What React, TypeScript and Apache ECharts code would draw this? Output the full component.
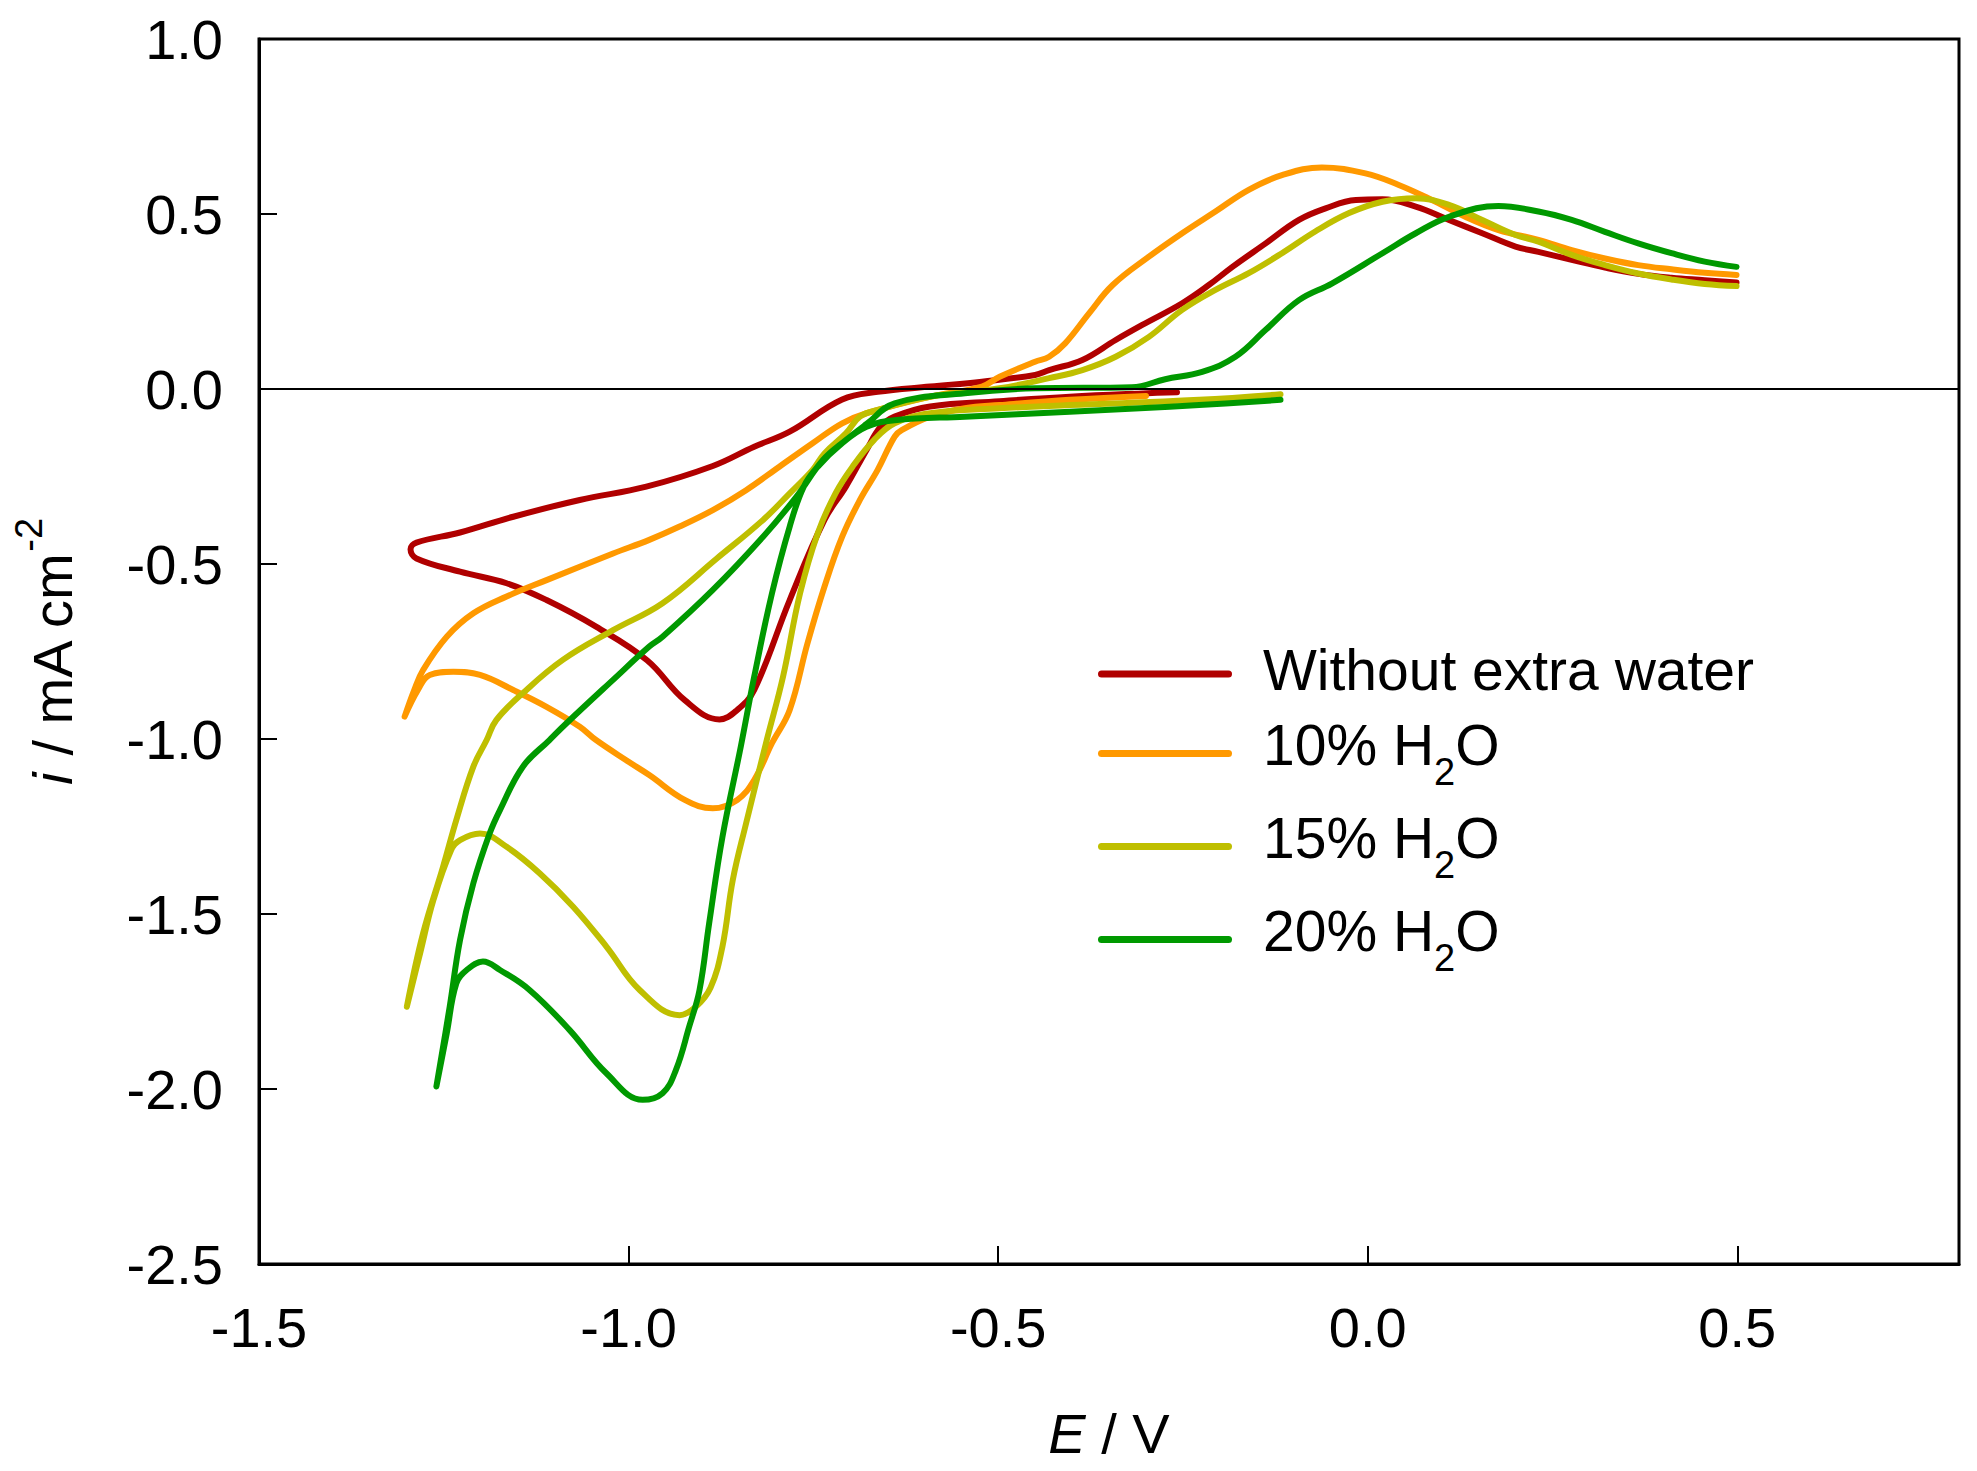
import { useEffect, useRef } from 'react';
import * as echarts from 'echarts';

// E / V vs i / mA cm-2, each scan drawn as one open path: start -> vertex -> +0.5 V
const noWater: [number, number][] = [
  [-0.258, -0.009], [-0.298, -0.012], [-0.403, -0.022], [-0.498, -0.035], [-0.592, -0.05],
  [-0.64, -0.079], [-0.659, -0.108], [-0.678, -0.174], [-0.706, -0.279], [-0.735, -0.374],
  [-0.782, -0.603], [-0.83, -0.86], [-0.853, -0.917], [-0.877, -0.944], [-0.924, -0.889],
  [-0.975, -0.775], [-1.044, -0.679], [-1.111, -0.603], [-1.165, -0.555], [-1.228, -0.522],
  [-1.287, -0.484], [-1.295, -0.458],
  [-1.287, -0.439], [-1.228, -0.41], [-1.156, -0.365], [-1.066, -0.317], [-0.976, -0.279],
  [-0.886, -0.22], [-0.83, -0.165], [-0.782, -0.122], [-0.711, -0.03], [-0.663, -0.008],
  [-0.592, 0.007], [-0.522, 0.021], [-0.45, 0.04], [-0.431, 0.054], [-0.386, 0.083],
  [-0.341, 0.14], [-0.305, 0.183], [-0.251, 0.245], [-0.215, 0.297], [-0.183, 0.349],
  [-0.138, 0.416], [-0.093, 0.483], [-0.057, 0.516], [-0.016, 0.54], [0.02, 0.542],
  [0.065, 0.521], [0.11, 0.483], [0.155, 0.445], [0.2, 0.407], [0.231, 0.392],
  [0.276, 0.369], [0.321, 0.347], [0.366, 0.329], [0.411, 0.318], [0.456, 0.311], [0.499, 0.304],
];

const water10: [number, number][] = [
  [-0.3, -0.02], [-0.403, -0.031], [-0.498, -0.046], [-0.545, -0.055], [-0.592, -0.079],
  [-0.63, -0.117], [-0.64, -0.136], [-0.663, -0.231], [-0.687, -0.317], [-0.711, -0.422],
  [-0.735, -0.565], [-0.758, -0.727], [-0.782, -0.917], [-0.806, -1.012], [-0.83, -1.117],
  [-0.853, -1.174], [-0.886, -1.198], [-0.924, -1.174], [-0.972, -1.103], [-1.0, -1.065],
  [-1.044, -1.003], [-1.066, -0.965], [-1.111, -0.908], [-1.156, -0.86], [-1.201, -0.817],
  [-1.237, -0.808], [-1.269, -0.817], [-1.285, -0.86], [-1.303, -0.936],
  [-1.29, -0.86], [-1.278, -0.803], [-1.246, -0.708], [-1.21, -0.641], [-1.165, -0.593],
  [-1.111, -0.546], [-1.021, -0.47], [-0.972, -0.431], [-0.931, -0.393], [-0.886, -0.346],
  [-0.841, -0.289], [-0.796, -0.222], [-0.751, -0.155], [-0.711, -0.098], [-0.678, -0.069],
  [-0.592, -0.022], [-0.522, 0.007], [-0.498, 0.035], [-0.45, 0.078], [-0.431, 0.092],
  [-0.409, 0.131], [-0.377, 0.216], [-0.345, 0.297], [-0.296, 0.378], [-0.251, 0.445],
  [-0.206, 0.507], [-0.161, 0.569], [-0.116, 0.611], [-0.062, 0.633], [-0.003, 0.616],
  [0.042, 0.583], [0.087, 0.54], [0.132, 0.492], [0.177, 0.454], [0.231, 0.426],
  [0.276, 0.397], [0.321, 0.373], [0.366, 0.354], [0.411, 0.342], [0.456, 0.332], [0.499, 0.326],
];

const water15: [number, number][] = [
  [-0.118, -0.015], [-0.228, -0.031], [-0.403, -0.046], [-0.498, -0.055], [-0.592, -0.069],
  [-0.64, -0.098], [-0.668, -0.146], [-0.697, -0.222], [-0.72, -0.298], [-0.744, -0.412],
  [-0.768, -0.584], [-0.791, -0.822], [-0.813, -1.003], [-0.841, -1.241],
  [-0.859, -1.403], [-0.873, -1.593], [-0.889, -1.71], [-0.909, -1.765], [-0.931, -1.789],
  [-0.985, -1.717], [-1.03, -1.593], [-1.075, -1.479], [-1.12, -1.384], [-1.165, -1.308],
  [-1.201, -1.27], [-1.228, -1.289], [-1.24, -1.317], [-1.264, -1.46], [-1.282, -1.612],
  [-1.3, -1.765],
  [-1.278, -1.555], [-1.251, -1.365], [-1.233, -1.231], [-1.21, -1.079], [-1.192, -1.003],
  [-1.179, -0.946], [-1.143, -0.869], [-1.089, -0.774], [-1.021, -0.689], [-0.954, -0.612],
  [-0.881, -0.485], [-0.818, -0.374], [-0.782, -0.298], [-0.751, -0.231], [-0.735, -0.184],
  [-0.706, -0.127], [-0.687, -0.079], [-0.663, -0.06], [-0.592, -0.022], [-0.498, 0.002],
  [-0.431, 0.031], [-0.386, 0.054], [-0.341, 0.092], [-0.296, 0.149], [-0.251, 0.226],
  [-0.206, 0.283], [-0.161, 0.331], [-0.116, 0.388], [-0.071, 0.45], [-0.026, 0.502],
  [0.02, 0.535], [0.065, 0.545], [0.11, 0.526], [0.155, 0.483], [0.2, 0.44], [0.231, 0.421],
  [0.276, 0.383], [0.321, 0.354], [0.366, 0.33], [0.411, 0.313], [0.456, 0.3], [0.499, 0.294],
];

const water20: [number, number][] = [
  [-0.118, -0.031], [-0.228, -0.046], [-0.308, -0.055], [-0.403, -0.065], [-0.545, -0.079],
  [-0.64, -0.089], [-0.678, -0.108], [-0.711, -0.155], [-0.744, -0.222], [-0.763, -0.279],
  [-0.782, -0.393], [-0.806, -0.584], [-0.83, -0.822], [-0.848, -1.02],
  [-0.873, -1.28], [-0.891, -1.527], [-0.904, -1.717], [-0.918, -1.822], [-0.936, -1.946],
  [-0.954, -2.012], [-0.981, -2.031], [-1.03, -1.955], [-1.08, -1.831], [-1.134, -1.717],
  [-1.174, -1.66], [-1.197, -1.636], [-1.219, -1.66], [-1.233, -1.698], [-1.246, -1.841],
  [-1.26, -1.993],
  [-1.242, -1.765], [-1.228, -1.574], [-1.21, -1.412], [-1.188, -1.27], [-1.174, -1.203],
  [-1.143, -1.079], [-1.107, -1.003], [-1.084, -0.955], [-1.021, -0.831], [-0.972, -0.736],
  [-0.954, -0.708], [-0.886, -0.574], [-0.818, -0.422], [-0.773, -0.308], [-0.737, -0.203],
  [-0.706, -0.146], [-0.678, -0.1], [-0.64, -0.041], [-0.545, -0.012], [-0.45, 0.002],
  [-0.319, 0.005], [-0.274, 0.028], [-0.224, 0.049], [-0.179, 0.092], [-0.138, 0.169],
  [-0.093, 0.254], [-0.048, 0.302], [0.02, 0.388], [0.065, 0.445], [0.11, 0.492],
  [0.177, 0.523], [0.231, 0.507], [0.276, 0.483], [0.321, 0.449], [0.366, 0.416],
  [0.411, 0.388], [0.456, 0.364], [0.499, 0.349],
];

const seriesNames = ['Without extra water', '10% H2O', '15% H2O', '20% H2O'];
const seriesColors = ['#B00000', '#FF9900', '#BFBF00', '#009900'];
const seriesData = [noWater, water10, water15, water20];

const FONT = 'Liberation Sans';

export default function App() {
  const chartRef = useRef<HTMLDivElement>(null);

  useEffect(() => {
    if (!chartRef.current) return;
    const chart = echarts.init(chartRef.current, null, { renderer: 'svg' });

    const option: echarts.EChartsOption = {
      animation: false,
      backgroundColor: '#fff',
      grid: {
        left: 259,
        right: 18,
        top: 39,
        bottom: 207,
        show: true,
        borderColor: '#000',
        borderWidth: 3,
        outerBoundsMode: 'none',
      } as any,
      legend: {
        orient: 'vertical',
        left: 1093,
        top: 636,
        itemWidth: 134,
        itemHeight: 7,
        itemGap: 18,
        icon: 'path://M3.5,0 L130.5,0 A3.5,3.5 0 0 1 130.5,7 L3.5,7 A3.5,3.5 0 0 1 3.5,0 Z',
        data: seriesNames.map((name, k) => ({
          name,
          itemStyle: { color: seriesColors[k] },
        })),
        formatter: (name: string) =>
          name.includes('H2O') ? '{t|' + name.replace('H2O', 'H') + '}{sub|2}{t|O}' : '{t|' + name + '}',
        textStyle: {
          color: '#000',
          fontFamily: FONT,
          padding: [0, 0, 0, 26],
          rich: {
            t: { fontSize: 57, fontFamily: FONT, color: '#000', lineHeight: 66, verticalAlign: 'top' },
            sub: { fontSize: 38, fontFamily: FONT, color: '#000', lineHeight: 75, verticalAlign: 'bottom' },
          },
        },
      },
      xAxis: {
        type: 'value',
        min: -1.5,
        max: 0.8,
        interval: 0.5,
        name: '{e|E}{t| / V}',
        nameLocation: 'middle',
        nameGap: 137,
        nameTextStyle: {
          rich: {
            e: { fontSize: 56, fontFamily: FONT, fontStyle: 'italic', color: '#000', lineHeight: 64 },
            t: { fontSize: 56, fontFamily: FONT, color: '#000', lineHeight: 64 },
          },
        },
        axisLine: { show: true, onZero: false, lineStyle: { color: '#000', width: 3 } },
        axisTick: { inside: true, length: 18, lineStyle: { color: '#000', width: 2 } },
        axisLabel: {
          margin: 35,
          fontSize: 56,
          fontFamily: FONT,
          color: '#000',
          showMaxLabel: false,
          formatter: (v: number) => v.toFixed(1),
        },
        splitLine: { show: false },
      },
      yAxis: {
        type: 'value',
        min: -2.5,
        max: 1.0,
        interval: 0.5,
        name: '{i|i}{t| / mA cm}{sup|-2}',
        nameLocation: 'middle',
        nameGap: 179,
        nameTextStyle: {
          rich: {
            i: { fontSize: 56, fontFamily: FONT, fontStyle: 'italic', color: '#000', lineHeight: 56, verticalAlign: 'bottom' },
            t: { fontSize: 56, fontFamily: FONT, color: '#000', lineHeight: 56, verticalAlign: 'bottom' },
            sup: { fontSize: 38, fontFamily: FONT, color: '#000', lineHeight: 70, verticalAlign: 'top' },
          },
        },
        axisLine: { show: true, onZero: false, lineStyle: { color: '#000', width: 3 } },
        axisTick: { inside: true, length: 18, lineStyle: { color: '#000', width: 2 } },
        axisLabel: {
          margin: 36,
          fontSize: 56,
          fontFamily: FONT,
          color: '#000',
          formatter: (v: number) => v.toFixed(1),
        },
        splitLine: { show: false },
      },
      series: seriesData.map((data, k) => ({
        name: seriesNames[k],
        type: 'line',
        data,
        showSymbol: false,
        symbol: 'none',
        smooth: 0.4,
        color: seriesColors[k],
        lineStyle: { color: seriesColors[k], width: 6, cap: 'round', join: 'round' },
        markLine:
          k === 0
            ? {
                silent: true,
                symbol: ['none', 'none'],
                label: { show: false },
                lineStyle: { color: '#000', width: 2, type: 'solid' },
                data: [{ yAxis: 0 }],
              }
            : undefined,
      })),
    };

    chart.setOption(option);

    return () => {
      chart.dispose();
    };
  }, []);

  return (
    <div
      ref={chartRef}
      style={{ position: 'fixed', left: 0, top: 0, width: 1977, height: 1471 }}
    />
  );
}
